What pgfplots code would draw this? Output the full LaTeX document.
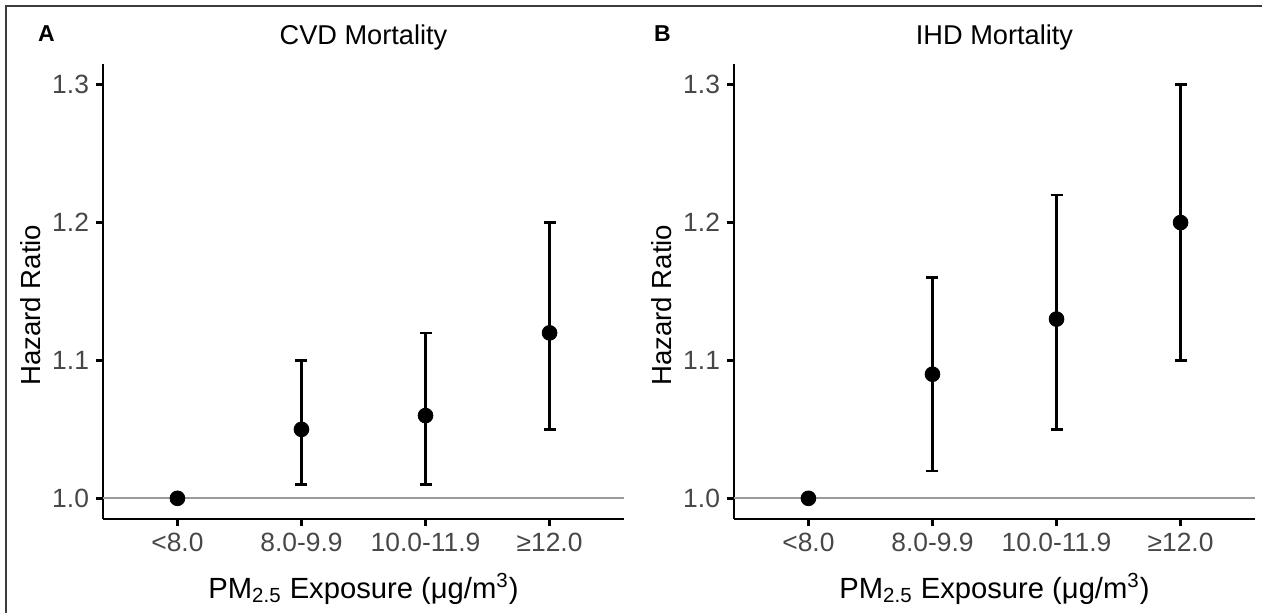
\documentclass[border=0pt]{standalone}
\usepackage{fontspec}
\setmainfont{Liberation Sans}
\usepackage{pgfplots}
\pgfplotsset{compat=1.18}
\definecolor{refgray}{RGB}{155,155,155}
\definecolor{framegray}{RGB}{60,60,60}
\pgfplotsset{
  hrstyle/.style={
    scale only axis, width=260.5pt, height=227.5pt,
    xmin=-0.6, xmax=3.6, ymin=0.985, ymax=1.315,
    axis x line*=bottom, axis y line*=left,
    axis line style={line width=1.25pt, black},
    xtick={0,1,2,3}, xticklabels={<8.0, 8.0-9.9, 10.0-11.9, ≥12.0},
    ytick={1.0,1.1,1.2,1.3}, yticklabels={1.0,1.1,1.2,1.3},
    tick align=outside, major tick length=3.5pt,
    tick style={line width=1.25pt, black},
    ticklabel style={font=\fontsize{13.2}{15}\selectfont, text=black!72},
    xlabel={PM\textsubscript{2.5} Exposure (μg/m\textsuperscript{3})},
    ylabel={Hazard Ratio},
    label style={font=\fontsize{13.8}{16}\selectfont},
    xlabel style={at={(axis description cs:0.5,-0.174)}, anchor=base, font=\fontsize{14.6}{17}\selectfont},
    ylabel style={at={(axis description cs:-0.12,0.47)}, anchor=base, rotate=0},
    title style={at={(axis description cs:0.5,1)}, anchor=base, yshift=4pt, font=\fontsize{13.6}{16}\selectfont},
    clip=false,
  },
  ebar/.style={only marks, mark=*, mark size=3.7pt, black,
    error bars/.cd, y dir=both, y explicit,
    error bar style={line width=1.25pt, black},
    error mark options={rotate=90, mark size=3pt, line width=1.25pt, black}},
}
\begin{document}
\begin{tikzpicture}
\useasboundingbox (0,0) rectangle (631pt,306pt);
\draw[framegray, line width=1pt] (3pt,-2pt) -- (3pt,303pt) -- (634pt,303pt);
\node[anchor=base west, font=\fontsize{11.5}{13}\selectfont\bfseries] at (15.5pt,285pt) {A};
\node[anchor=base west, font=\fontsize{11.5}{13}\selectfont\bfseries] at (323.5pt,285pt) {B};
\begin{axis}[hrstyle, at={(51.5pt,46.5pt)}, anchor=south west, title={CVD Mortality}]
\addplot[refgray, line width=1pt, forget plot] coordinates {(-0.6,1.0) (3.6,1.0)};
\addplot[only marks, mark=*, mark size=3.7pt, black] coordinates {(0,1.00)};
\addplot[ebar] coordinates {
  (1,1.05) += (0,0.05) -= (0,0.04)
  (2,1.06) += (0,0.06) -= (0,0.05)
  (3,1.12) += (0,0.08) -= (0,0.07)
};
\end{axis}
\begin{axis}[hrstyle, at={(367pt,46.5pt)}, anchor=south west, title={IHD Mortality}]
\addplot[refgray, line width=1pt, forget plot] coordinates {(-0.6,1.0) (3.6,1.0)};
\addplot[only marks, mark=*, mark size=3.7pt, black] coordinates {(0,1.00)};
\addplot[ebar] coordinates {
  (1,1.09) += (0,0.07) -= (0,0.07)
  (2,1.13) += (0,0.09) -= (0,0.08)
  (3,1.20) += (0,0.10) -= (0,0.10)
};
\end{axis}
\end{tikzpicture}
\end{document}
